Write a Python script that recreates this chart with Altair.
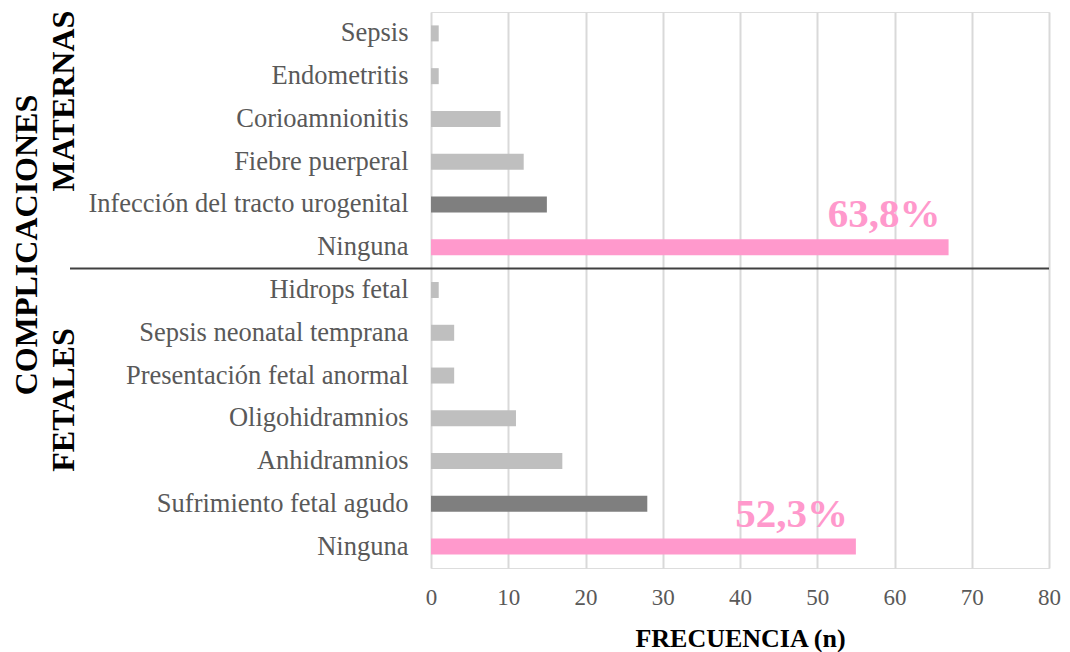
import altair as alt
import pandas as pd

labels = ["Sepsis", "Endometritis", "Corioamnionitis", "Fiebre puerperal",
          "Infección del tracto urogenital", "Ninguna",
          "Hidrops fetal", "Sepsis neonatal temprana", "Presentación fetal anormal",
          "Oligohidramnios", "Anhidramnios", "Sufrimiento fetal agudo", "Ninguna"]
values = [1, 1, 9, 12, 15, 67, 1, 3, 3, 11, 17, 28, 55]
kinds = ["otra", "otra", "otra", "otra", "principal", "ninguna",
         "otra", "otra", "otra", "otra", "otra", "principal", "ninguna"]
pct_labels = ["", "", "", "", "", "63,8%", "", "", "", "", "", "", "52,3%"]
x_ticks = [0, 10, 20, 30, 40, 50, 60, 70, 80]

df = pd.DataFrame({"key": list(range(len(labels))), "label": labels,
                   "value": values, "kind": kinds, "pct": pct_labels})

label_expr = "[" + ",".join("'" + l + "'" for l in labels) + "][datum.value]"

SERIF = "Liberation Serif"
W = 618

y_enc = alt.Y("key:O", sort="ascending",
              scale=alt.Scale(paddingInner=0, paddingOuter=0),
              axis=alt.Axis(title=None, labelExpr=label_expr, domain=False, ticks=False,
                            labelPadding=23, labelFontSize=26.5, labelColor="#595959",
                            labelFont=SERIF, labelLimit=0, grid=False))
x_enc = alt.X("value:Q", scale=alt.Scale(domain=[0, 80], nice=False),
              axis=alt.Axis(title="FRECUENCIA (n)", values=x_ticks, domain=False, ticks=False,
                            labelPadding=18, labelFontSize=23, labelColor="#595959",
                            labelFont=SERIF, labelFlush=False, grid=True,
                            gridColor="#D9D9D9", gridWidth=2,
                            titleFont=SERIF, titleFontSize=26, titleFontWeight="bold",
                            titleColor="#000000", titlePadding=16))

bars = alt.Chart(df).mark_bar(size=16).encode(
    x=x_enc, y=y_enc,
    color=alt.Color("kind:N", legend=None,
                    scale=alt.Scale(domain=["ninguna", "principal", "otra"],
                                    range=["#FF99CC", "#7F7F7F", "#BFBFBF"])))

pct = alt.Chart(df).transform_filter("datum.pct != ''").mark_text(
    align="right", baseline="alphabetic", dx=-8, dy=-20, fontSize=41,
    fontWeight="bold", font=SERIF, color="#FF99CC").encode(
    x="value:Q", y=alt.Y("key:O", sort="ascending"), text="pct:N")

divider = alt.Chart(pd.DataFrame({"key": [6]})).mark_rule(
    color="#404040", strokeWidth=2).encode(
    y=alt.Y("key:O", sort="ascending", bandPosition=0),
    x=alt.value(-361), x2=alt.value(W))

t1 = alt.Chart(pd.DataFrame({"t": ["COMPLICACIONES"]})).mark_text(
    angle=270, align="center", baseline="middle", fontSize=32, fontWeight="bold",
    font=SERIF, color="#000000").encode(x=alt.value(-404), y=alt.value(233), text="t:N")
t2 = alt.Chart(pd.DataFrame({"t": ["MATERNAS"]})).mark_text(
    angle=270, align="center", baseline="middle", fontSize=32, fontWeight="bold",
    font=SERIF, color="#000000").encode(x=alt.value(-367), y=alt.value(89), text="t:N")
t3 = alt.Chart(pd.DataFrame({"t": ["FETALES"]})).mark_text(
    angle=270, align="center", baseline="middle", fontSize=32, fontWeight="bold",
    font=SERIF, color="#000000").encode(x=alt.value(-367), y=alt.value(388), text="t:N")

chart = alt.layer(bars, pct, divider, t1, t2, t3).properties(
    width=W, height=556,
    autosize=alt.AutoSizeParams(type="none"),
    padding={"left": 423, "top": 4, "right": 13, "bottom": 84},
).configure_view(stroke=None).configure(background="white")

chart.save("out.html", embed_options={"renderer": "svg", "actions": False})
